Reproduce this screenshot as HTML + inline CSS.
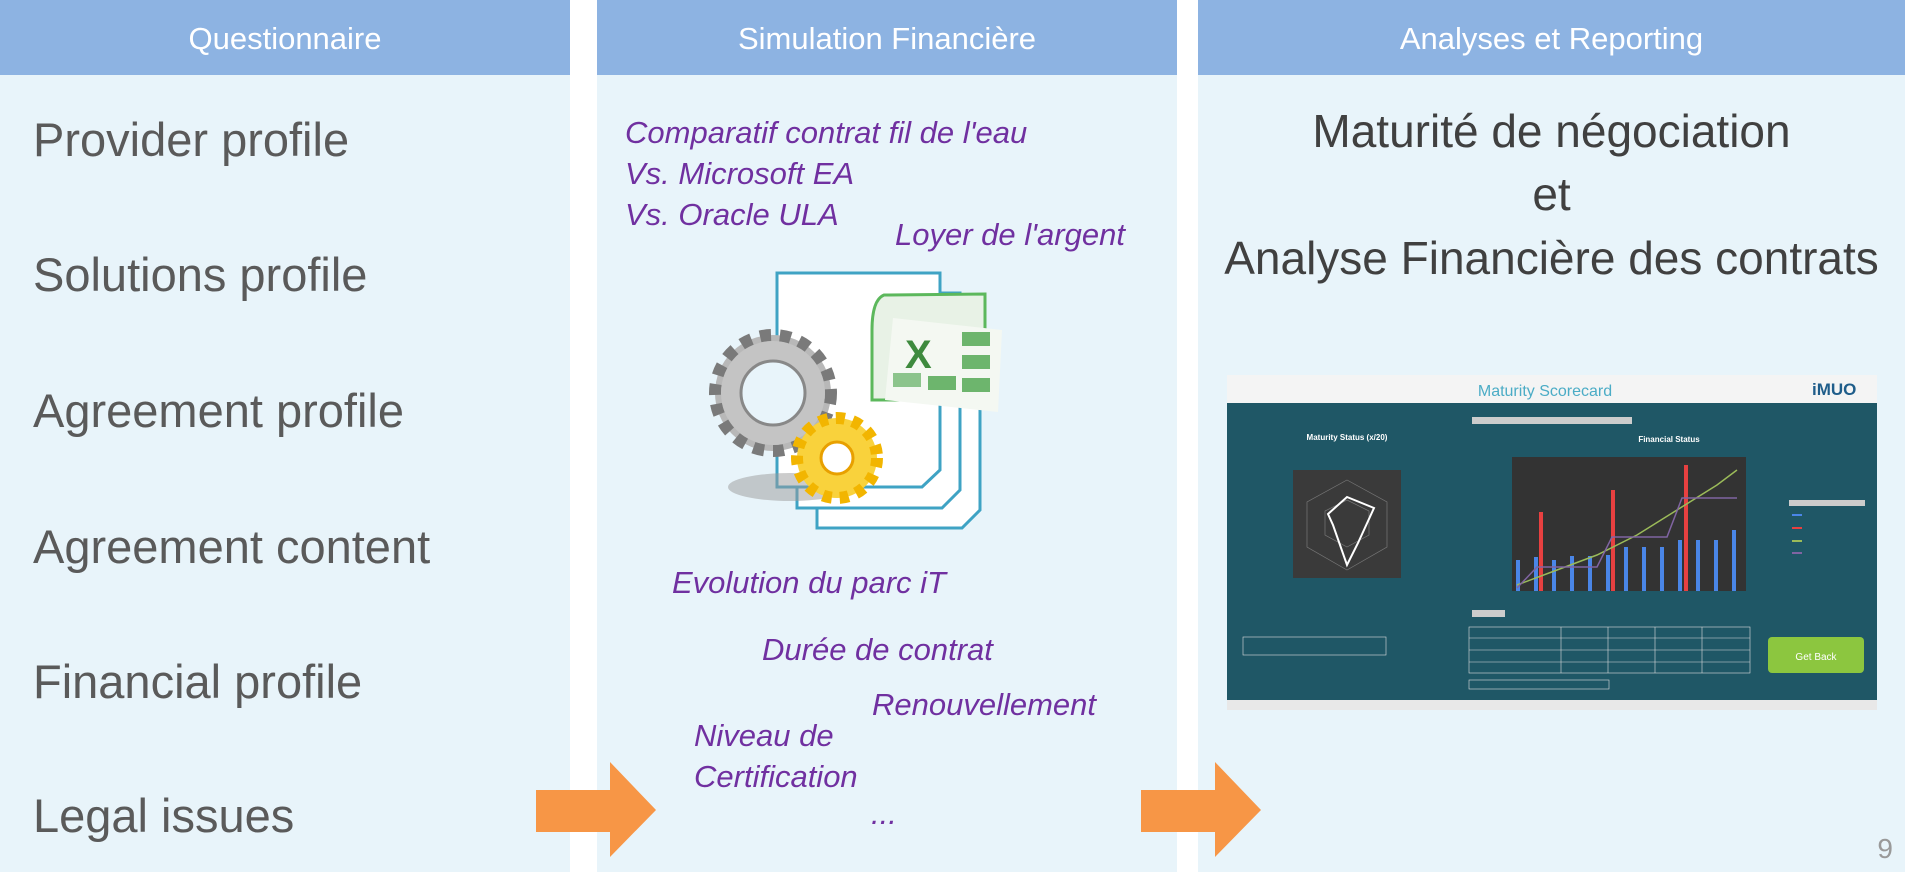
<!DOCTYPE html>
<html><head><meta charset="utf-8"><style>
*{margin:0;padding:0;box-sizing:border-box}
body{width:1905px;height:872px;background:#fff;position:relative;overflow:hidden;font-family:"Liberation Sans","DejaVu Sans",sans-serif}
.panel{position:absolute;top:0;height:872px;background:#e8f4fa}
.hdr{position:absolute;left:0;right:0;top:0;height:75px;background:#8db3e2;color:#fff;font-size:31px;text-align:center;line-height:78px}
.l{position:absolute;left:33px;font-size:47px;color:#5a5a5a;white-space:nowrap;line-height:1}
.p{position:absolute;font-size:31px;font-style:italic;color:#7030a0;white-space:nowrap;line-height:1}
.r{position:absolute;left:0;right:0;text-align:center;font-size:46px;color:#404040;line-height:1;white-space:nowrap}
</style></head><body>
<div class="panel" style="left:0;width:570px">
 <div class="hdr">Questionnaire</div>
 <div class="l" style="top:116px">Provider profile</div>
 <div class="l" style="top:251px">Solutions profile</div>
 <div class="l" style="top:387px">Agreement profile</div>
 <div class="l" style="top:523px">Agreement content</div>
 <div class="l" style="top:658px">Financial profile</div>
 <div class="l" style="top:792px">Legal issues</div>
</div>
<div class="panel" style="left:597px;width:580px">
 <div class="hdr">Simulation Financière</div>
 <div class="p" style="left:28px;top:117px">Comparatif contrat fil de l'eau</div>
 <div class="p" style="left:28px;top:158px">Vs. Microsoft EA</div>
 <div class="p" style="left:28px;top:199px">Vs. Oracle ULA</div>
 <div class="p" style="left:298px;top:219px">Loyer de l'argent</div>
 <div class="p" style="left:75px;top:567px">Evolution du parc iT</div>
 <div class="p" style="left:165px;top:634px">Durée de contrat</div>
 <div class="p" style="left:275px;top:689px">Renouvellement</div>
 <div class="p" style="left:97px;top:720px">Niveau de</div>
 <div class="p" style="left:97px;top:761px">Certification</div>
 <div class="p" style="left:274px;top:798px">...</div>
</div>
<div class="panel" style="left:1198px;width:707px">
 <div class="hdr">Analyses et Reporting</div>
 <div class="r" style="top:108px">Maturité de négociation</div>
 <div class="r" style="top:171px">et</div>
 <div class="r" style="top:235px">Analyse Financière des contrats</div>
 <div style="position:absolute;right:12px;top:833px;font-size:28px;color:#999">9</div>
</div>

<svg style="position:absolute;left:0;top:0" width="1905" height="872">
 <polygon points="536,790 610,790 610,762 656,810 610,857 610,832 536,832" fill="#f79646"/>
 <polygon points="1141,790 1215,790 1215,762 1261,810 1215,857 1215,832 1141,832" fill="#f79646"/>
 <g>
  <polygon points="817,313 980,313 980,510 962,528 817,528" fill="#fff" stroke="#3fa3c4" stroke-width="3"/>
  <polygon points="797,293 960,293 960,490 942,508 797,508" fill="#fff" stroke="#3fa3c4" stroke-width="3"/>
  <polygon points="777,273 940,273 940,470 922,487 777,487" fill="#fff" stroke="#3fa3c4" stroke-width="3"/>
  <ellipse cx="790" cy="487" rx="62" ry="14" fill="#999" opacity="0.5"/>
  <path d="M884,295 L985,294 L985,400 L872,400 L872,330 Q872,300 884,295Z" fill="#e8f2e6" stroke="#5cb85c" stroke-width="3"/>
  <polygon points="893,318 1002,330 998,412 885,400" fill="#f4f8f2"/>
  <text x="905" y="368" font-size="40" font-weight="bold" fill="#3e8a3e" font-family="Liberation Sans">X</text>
  <rect x="962" y="332" width="28" height="14" fill="#6db56d"/><rect x="962" y="355" width="28" height="14" fill="#6db56d"/>
  <rect x="893" y="373" width="28" height="14" fill="#8cc48c"/><rect x="928" y="376" width="28" height="14" fill="#6db56d"/><rect x="962" y="378" width="28" height="14" fill="#6db56d"/>
  <circle cx="773" cy="393" r="58" fill="#b8b8b8" stroke="#7a7a7a" stroke-width="12" stroke-dasharray="11 9"/>
  <circle cx="773" cy="393" r="52" fill="#c4c4c4"/>
  <circle cx="773" cy="393" r="32" fill="#e8f4fa" stroke="#888" stroke-width="3"/>
  <circle cx="837" cy="458" r="40" fill="#f9d23c" stroke="#f2b500" stroke-width="12" stroke-dasharray="9 8"/>
  <circle cx="837" cy="458" r="16" fill="#fff" stroke="#e8a000" stroke-width="3"/>
 </g>
</svg>

<svg style="position:absolute;left:1227px;top:375px" width="652" height="340" font-family="Liberation Sans">
 <rect x="0" y="0" width="650" height="335" fill="#1f5766"/>
 <rect x="0" y="0" width="650" height="28" fill="#f4f4f4"/>
 <text x="318" y="21" font-size="16" fill="#4bacc6" text-anchor="middle">Maturity Scorecard</text>
 <text x="585" y="20" font-size="17" fill="#1f5d8a" font-weight="bold">iMUO</text>
 <rect x="0" y="325" width="650" height="10" fill="#e8e8e8"/>
 <text x="120" y="65" font-size="8" fill="#fff" font-weight="bold" text-anchor="middle">Maturity Status (x/20)</text>
 <text x="442" y="67" font-size="8" fill="#fff" font-weight="bold" text-anchor="middle">Financial Status</text>
 <rect x="245" y="42" width="160" height="7" fill="#ccc"/>
 <rect x="66" y="95" width="108" height="108" fill="#3a3a3a"/>
 <polygon points="120,105 160,127 160,172 120,195 80,172 80,127" fill="none" stroke="#777" stroke-width="0.7"/>
 <polygon points="120,125 142,136 142,160 120,172 98,160 98,136" fill="none" stroke="#777" stroke-width="0.7"/>
 <polygon points="120,122 147,133 131,168 120,190 106,150 101,139" fill="none" stroke="#fff" stroke-width="2"/>
 <rect x="285" y="82" width="234" height="134" fill="#333"/>
 <g fill="#4a86e8">
  <rect x="289" y="185" width="4" height="31"/><rect x="307" y="182" width="4" height="34"/><rect x="325" y="185" width="4" height="31"/><rect x="343" y="181" width="4" height="35"/><rect x="361" y="181" width="4" height="35"/><rect x="379" y="180" width="4" height="36"/><rect x="397" y="172" width="4" height="44"/><rect x="415" y="172" width="4" height="44"/><rect x="433" y="172" width="4" height="44"/><rect x="451" y="165" width="4" height="51"/><rect x="469" y="165" width="4" height="51"/><rect x="487" y="165" width="4" height="51"/><rect x="505" y="155" width="4" height="61"/>
 </g>
 <g fill="#e84040"><rect x="312" y="137" width="4" height="79"/><rect x="384" y="115" width="4" height="101"/><rect x="457" y="90" width="4" height="126"/></g>
 <polyline points="290,210 330,195 370,180 410,160 450,135 490,110 510,95" fill="none" stroke="#9bbb59" stroke-width="1.5"/>
 <polyline points="290,213 310,192 370,192 385,162 440,162 455,123 510,123" fill="none" stroke="#8064a2" stroke-width="1.5"/>
 <rect x="562" y="125" width="76" height="6" fill="#ccc"/>
 <rect x="565" y="139" width="10" height="2" fill="#4a86e8"/><rect x="565" y="152" width="10" height="2" fill="#e84040"/><rect x="565" y="165" width="10" height="2" fill="#9bbb59"/><rect x="565" y="177" width="10" height="2" fill="#8064a2"/>
 <rect x="245" y="235" width="33" height="7" fill="#ccc"/>
 <g stroke="#ddd" stroke-width="0.6" fill="none"><rect x="242" y="252" width="281" height="46"/><line x1="242" y1="263" x2="523" y2="263"/><line x1="242" y1="275" x2="523" y2="275"/><line x1="242" y1="287" x2="523" y2="287"/><line x1="334" y1="252" x2="334" y2="298"/><line x1="381" y1="252" x2="381" y2="298"/><line x1="428" y1="252" x2="428" y2="298"/><line x1="475" y1="252" x2="475" y2="298"/><rect x="242" y="305" width="140" height="9"/><rect x="16" y="262" width="143" height="18"/></g>
 <rect x="541" y="262" width="96" height="36" rx="4" fill="#8cc63f"/>
 <text x="589" y="285" font-size="10" fill="#fff" text-anchor="middle">Get Back</text>
</svg>
</body></html>
